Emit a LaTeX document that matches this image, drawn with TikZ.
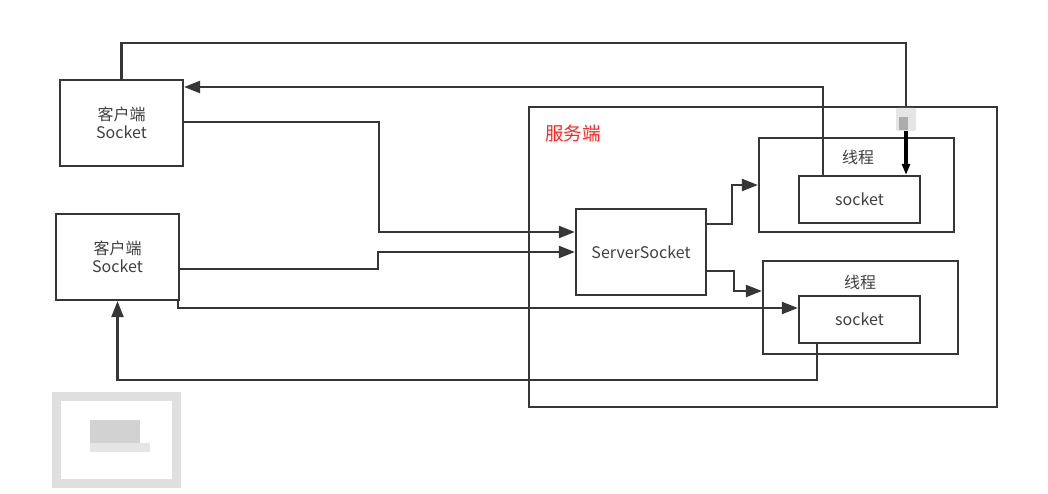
\documentclass[tikz,border=0pt]{standalone}
\usepackage{fontspec}
\newfontfamily\cjk{Noto Sans CJK SC}
\usetikzlibrary{arrows.meta,positioning}
\definecolor{lc}{HTML}{363636}
\definecolor{tc}{HTML}{404040}
\begin{document}
\begin{tikzpicture}[x=1pt,y=-1pt,
  box/.style={draw=lc,line width=2.2pt,inner sep=0pt,fill=white,font=\cjk\fontsize{16}{18}\selectfont,text=tc,align=center},
  lbl/.style={inner sep=0pt,font=\cjk\fontsize{16}{18}\selectfont,text=tc},
  conn/.style={draw=lc,line width=2.2pt},
  arr/.style={conn,-{Triangle[length=16pt,width=12pt]}},
  ]
\useasboundingbox (0,0) rectangle (1048,494);
\fill[white] (0,0) rectangle (1048,494);
% server outer box
\node[box,minimum width=468pt,minimum height=300pt,fill=none] (srv) at (763,257) {};
\node[inner sep=0pt,font=\cjk\fontsize{18.5}{20}\selectfont,text=red!85!white] (srvl) at (573,133) {服务端};
% clients
\node[box,minimum width=123pt,minimum height=86pt] (c1) at (121.5,123) {客户端\\[0pt]Socket};
\node[box,minimum width=123pt,minimum height=86pt] (c2) at (117.5,257) {客户端\\[0pt]Socket};
% server socket
\node[box,minimum width=130pt,minimum height=86pt] (ss) at (641,252) {ServerSocket};
% threads
\node[box,minimum width=195pt,minimum height=94pt,fill=none] (t1) at (856.5,185) {};
\node[lbl] (t1l) at (858,157) {线程};
\node[box,minimum width=121pt,minimum height=47pt] (s1) at (859.5,199.5) {socket};
\node[box,minimum width=195pt,minimum height=93pt,fill=none] (t2) at (860.5,307.5) {};
\node[lbl] (t2l) at (860,282) {线程};
\node[box,minimum width=121pt,minimum height=47pt] (s2) at (859.5,319.5) {socket};
% bend coordinates
\coordinate (k1) at (906,43);
\coordinate (k1b) at (906,124);
\coordinate (k2) at (823,87);
\coordinate (k3) at (379,232);
\coordinate (k4) at (378,252);
\coordinate (k5) at (178,308);
\coordinate (k6) at (817,380);
\coordinate (k7) at (732,185);
\coordinate (k8) at (734,291);
% connectors
\draw[conn] (c1.north) |- (k1) -- (k1b);
\draw[line width=3.2pt,black,-{Triangle[length=11pt,width=8pt]}] (k1b) -- (s1.north -| k1b);
\draw[arr] (s1.north -| k2) |- (c1.east |- k2);
\draw[arr] (c1.east |- 0,122) -| (k3) -- (ss.west |- k3);
\draw[arr] (c2.east |- 0,269) -| (k4) -- (ss.west |- k4);
\draw[arr] (c2.south east -| k5) -- (k5) -- (s2.west |- k5);
\draw[arr] (s2.south -| k6) |- (c2.south |- k6) -- (c2.south);
\draw[arr] (ss.east |- 0,224) -| (k7) -- (t1.west |- k7);
\draw[arr] (ss.east |- 0,271) -| (k8) -- (t2.west |- k8);
% blurred marker on the arrow
\fill[gray!20,rounded corners=2pt] (896,108) rectangle (916,131);
\fill[gray!65] (899,117) rectangle (908,130);
% blurred watermark
\draw[line width=9pt,gray!25] (56,396) rectangle (176,483);
\fill[gray!35] (90,420) rectangle (140,443);
\fill[gray!20] (90,443) rectangle (150,452);
\end{tikzpicture}
\end{document}
